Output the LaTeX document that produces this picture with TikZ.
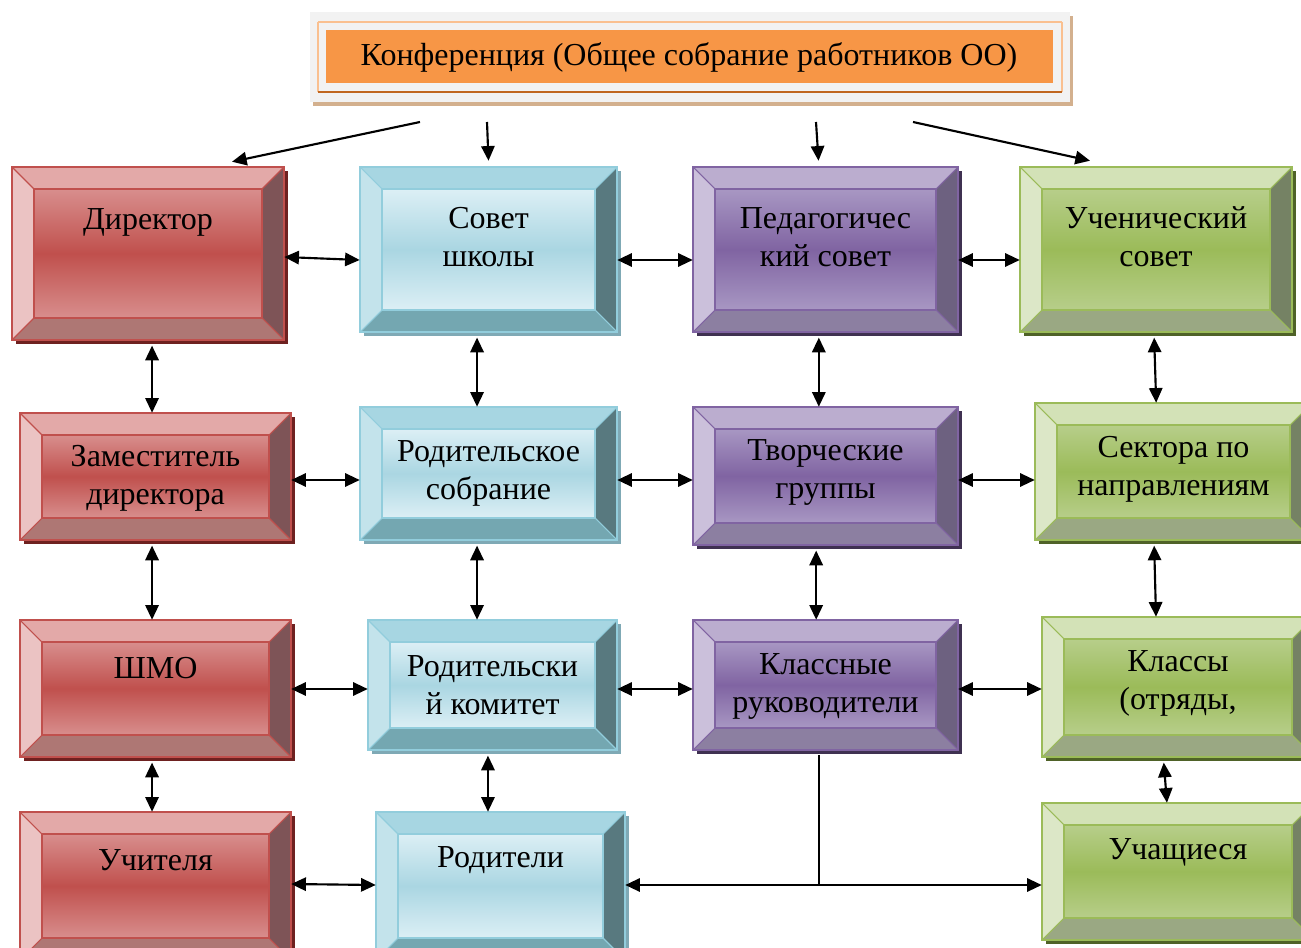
\documentclass[tikz,border=0pt]{standalone}
\usepackage{fontspec}
\setmainfont{Liberation Serif}
\usetikzlibrary{arrows.meta,calc,fit}

% red
\definecolor{redln}{HTML}{C0504D}
\definecolor{redtp}{HTML}{E3A9A8}
\definecolor{redlf}{HTML}{EBC3C3}
\definecolor{redrt}{HTML}{7E5457}
\definecolor{redbt}{HTML}{AE7774}
\definecolor{redsh}{HTML}{6E2120}
\definecolor{redlt}{HTML}{D88E8D}
% blue
\definecolor{bluln}{HTML}{92CDDC}
\definecolor{blutp}{HTML}{A7D6E2}
\definecolor{blulf}{HTML}{C3E3EB}
\definecolor{blurt}{HTML}{58797F}
\definecolor{blubt}{HTML}{74A7B1}
\definecolor{blush}{HTML}{7FA9B5}
\definecolor{blult}{HTML}{DCEFF5}
\definecolor{blumd}{HTML}{AAD6E2}
% purple
\definecolor{purln}{HTML}{8064A2}
\definecolor{purtp}{HTML}{BBADCF}
\definecolor{purlf}{HTML}{CBC0DB}
\definecolor{purrt}{HTML}{6D6180}
\definecolor{purbt}{HTML}{8C7FA1}
\definecolor{pursh}{HTML}{3F3151}
\definecolor{purlt}{HTML}{A897C3}
% green
\definecolor{grnln}{HTML}{9BBB59}
\definecolor{grntp}{HTML}{D3E2B7}
\definecolor{grnlf}{HTML}{DCE7C7}
\definecolor{grnrt}{HTML}{758264}
\definecolor{grnbt}{HTML}{9AA883}
\definecolor{grnsh}{HTML}{4F6228}
\definecolor{grnlt}{HTML}{B7CE8A}
% top box
\definecolor{confbg}{HTML}{F2F2F2}
\definecolor{confsh}{HTML}{D3B08E}
\definecolor{conffill}{HTML}{F79646}
\definecolor{confhi}{HTML}{FAC090}
\definecolor{conflo}{HTML}{C0661F}

\tikzset{
  redface/.style={top color=redlt,bottom color=redlt,middle color=redln},
  bluface/.style={shading angle=45,top color=blult,bottom color=blult,middle color=blumd},
  purface/.style={top color=purlt,bottom color=purlt,middle color=purln},
  grnface/.style={top color=grnlt,bottom color=grnlt,middle color=grnln},
  boxtext/.style={align=center,inner sep=0pt,font=\fontsize{24}{28.5}\selectfont},
  arr/.style={line width=1.6pt,-{Triangle[length=11pt,width=10pt]}},
  darr/.style={line width=1.6pt,{Triangle[length=11pt,width=10pt]}-{Triangle[length=11pt,width=10pt]}},
  vdarr/.style={darr,shorten <=4pt},
  conn/.style={line width=1.6pt}
}

% #1 name, #2 x1, #3 y1, #4 x2, #5 y2, #6 colour set, #7 text, #8 text y
\newcommand{\bevbox}[8]{%
  \fill[#6sh] (#2+4,#3+4) rectangle (#4+4,#5+4);
  \shade[#6face] (#2+22,#3+22) rectangle (#4-22,#5-22);
  \fill[#6tp] (#2,#3) -- (#4,#3) -- (#4-22,#3+22) -- (#2+22,#3+22) -- cycle;
  \fill[#6bt] (#2,#5) -- (#4,#5) -- (#4-22,#5-22) -- (#2+22,#5-22) -- cycle;
  \fill[#6lf] (#2,#3) -- (#2+22,#3+22) -- (#2+22,#5-22) -- (#2,#5) -- cycle;
  \fill[#6rt] (#4,#3) -- (#4-22,#3+22) -- (#4-22,#5-22) -- (#4,#5) -- cycle;
  \draw[#6ln,line width=0.8pt] (#2,#3) -- (#2+22,#3+22) (#4,#3) -- (#4-22,#3+22)
    (#2,#5) -- (#2+22,#5-22) (#4,#5) -- (#4-22,#5-22);
  \draw[#6ln,line width=0.8pt] (#2+22,#3+22) rectangle (#4-22,#5-22);
  \draw[#6ln,line width=1.5pt] (#2,#3) rectangle (#4,#5);
  \coordinate (#1nw) at (#2,#3);
  \coordinate (#1se) at (#4,#5);
  \node[inner sep=0pt,fit=(#1nw)(#1se)] (#1) {};
  \node[boxtext] (#1txt) at (#1.center |- 0,#8) {#7};
}

\begin{document}
\begin{tikzpicture}[x=0.75pt,y=-0.75pt]
  \useasboundingbox (0,0) rectangle (1301,948);
  \clip (0,0) rectangle (1301,948);

  % conference
  \fill[confsh] (313,16) rectangle (1073,106);
  \fill[confbg] (310,12) rectangle (1070,102);
  \draw[confhi,line width=1.2pt] (318,22) -- (1062,22);
  \draw[confhi,line width=0.8pt] (318,22) -- (318,92) (1062,22) -- (1062,92);
  \draw[conflo,line width=1.2pt] (318,92) -- (1062,92);
  \fill[conffill] (326,30) rectangle (1053,83);
  \node[boxtext] (conf) at (689,57) {Конференция (Общее собрание работников ОО)};

  % row 1
  \bevbox{dir}{12}{167}{284}{340}{red}{Директор}{222}
  \bevbox{sov}{360}{167}{617}{332}{blu}{Совет\\школы}{237}
  \bevbox{ped}{693}{167}{958}{332}{pur}{Педагогичес\\кий совет}{237}
  \bevbox{uch}{1020}{167}{1292}{332}{grn}{Ученический\\совет}{237}
  % row 2
  \bevbox{zam}{20}{413}{291}{540}{red}{Заместитель\\директора}{478}
  \bevbox{rso}{360}{407}{617}{540}{blu}{Родительское\\собрание}{473}
  \bevbox{tvo}{693}{407}{958}{545}{pur}{Творческие\\группы}{472}
  \bevbox{sek}{1035}{403}{1312}{540}{grn}{Сектора по\\направлениям}{469}
  % row 3
  \bevbox{shmo}{20}{620}{291}{757}{red}{ШМО}{668}
  \bevbox{rko}{368}{620}{617}{750}{blu}{Родительски\\й комитет}{685}
  \bevbox{klr}{693}{620}{958}{750}{pur}{Классные\\руководители}{686}
  \bevbox{kla}{1042}{617}{1314}{757}{grn}{Классы\\(отряды,}{683}
  % row 4
  \bevbox{uchi}{20}{812}{291}{960}{red}{Учителя}{860}
  \bevbox{rod}{376}{812}{625}{960}{blu}{Родители}{860}
  \bevbox{uchs}{1042}{803}{1314}{940}{grn}{Учащиеся}{852}

  % from the conference
  \coordinate (t1) at (420,122);
  \coordinate (t2) at (487,122);
  \coordinate (t3) at (816,122);
  \coordinate (t4) at (913,122);
  \draw[arr] (t1) -- ($(dir.north)+(84,-5)$);
  \draw[arr] (t2) -- ($(sov.north)+(0,-6)$);
  \draw[arr] (t3) -- ($(ped.north)+(-7,-6)$);
  \draw[arr] (t4) -- ($(uch.north)+(-66,-6)$);

  % horizontal links
  \draw[darr] (dir.east |- 0,257) -- (sov.west |- 0,260);
  \draw[darr] (sov.east |- 0,260) -- (ped.west |- 0,260);
  \draw[darr] (ped.east |- 0,260) -- (uch.west |- 0,260);
  \draw[darr] (zam.east |- 0,480) -- (rso.west |- 0,480);
  \draw[darr] (rso.east |- 0,480) -- (tvo.west |- 0,480);
  \draw[darr] (tvo.east |- 0,480) -- (sek.west |- 0,480);
  \draw[darr] (shmo.east |- 0,689) -- (rko.west |- 0,689);
  \draw[darr] (rko.east |- 0,689) -- (klr.west |- 0,689);
  \draw[darr] (klr.east |- 0,689) -- (kla.west |- 0,689);
  \draw[darr] (uchi.east |- 0,884) -- (rod.west |- 0,885);

  % vertical links
  \draw[vdarr] ([xshift=-2.6pt]zam.north |- dir.south) -- ([xshift=-2.6pt]zam.north);
  \draw[vdarr] ([xshift=-2.6pt]zam.south) -- ([xshift=-2.6pt]shmo.north);
  \draw[vdarr] ([xshift=-2.6pt]shmo.south) -- ([xshift=-2.6pt]uchi.north);
  \draw[vdarr] ([xshift=-8.6pt]sov.south) -- ([xshift=-8.6pt]rso.north);
  \draw[vdarr] ([xshift=-8.6pt]rso.south) -- ([xshift=-11.6pt]rko.north);
  \draw[vdarr] ([xshift=-3.4pt]rko.south) -- ([xshift=-9.4pt]rod.north);
  \draw[vdarr] ([xshift=-5pt]ped.south) -- ([xshift=-5pt]tvo.north);
  \draw[vdarr] ([xshift=-7pt]tvo.south) -- ([xshift=-7pt]klr.north);
  \draw[vdarr] ([xshift=-1.5pt]uch.south) -- ([xshift=-13pt]sek.north);
  \draw[vdarr] ([xshift=-14.6pt]sek.south) -- ([xshift=-16.5pt]kla.north);
  \draw[vdarr] ([xshift=-11pt]kla.south) -- ([xshift=-8.3pt]uchs.north);

  % class teachers to parents and pupils
  \coordinate (jn) at (819,885);
  \draw[darr] (rod.east |- jn) -- (uchs.west |- jn);
  \draw[conn] (jn |- klr.south) ++(0,5) -- (jn);
\end{tikzpicture}
\end{document}
